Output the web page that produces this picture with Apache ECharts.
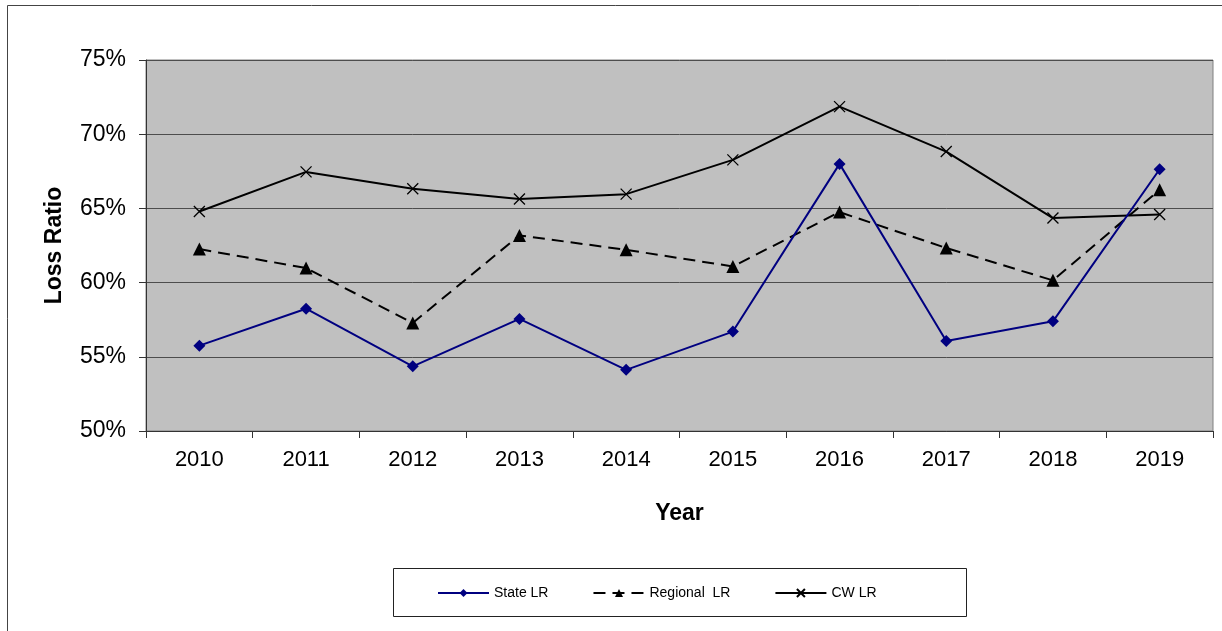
<!DOCTYPE html>
<html>
<head>
<meta charset="utf-8">
<script src="https://cdn.jsdelivr.net/npm/echarts@6/dist/echarts.min.js"></script>
<style>html,body{margin:0;padding:0;background:#fff;}#c{width:1222px;height:631px;}</style>
</head>
<body>
<div id="c"></div>
<script>
const years = ['2010','2011','2012','2013','2014','2015','2016','2017','2018','2019'];
const stateLR = [55.75, 58.24, 54.36, 57.55, 54.12, 56.70, 68.00, 56.07, 57.39, 67.64];
const regionalLR = [62.26, 60.98, 57.28, 63.18, 62.21, 61.09, 64.75, 62.33, 60.15, 66.25];
const cwLR = [64.79, 67.46, 66.32, 65.63, 65.96, 68.27, 71.86, 68.83, 64.35, 64.59];
const yTicks = {min: 50, max: 75, step: 5};

const chart = echarts.init(document.getElementById('c'), null, {renderer: 'canvas'});
const font = 'Liberation Sans, Arial, sans-serif';
const crossPath = 'path://M0,0L10,10M10,0L0,10';
chart.setOption({
  animation: false,
  backgroundColor: '#fff',
  textStyle: {fontFamily: font},
  graphic: [
    {type: 'rect', shape: {x: 7.5, y: 5.5, width: 1300, height: 700}, style: {fill: null, stroke: '#444', lineWidth: 1}, z: -1},
    {type: 'rect', shape: {x: 393.5, y: 568.5, width: 573, height: 48}, style: {fill: '#fff', stroke: '#222', lineWidth: 1}, z: 0}
  ],
  grid: {left: 146, top: 60, right: 9, bottom: 200, show: true, backgroundColor: '#c0c0c0', borderColor: '#808080', borderWidth: 1},
  legend: {
    left: 432, top: 581, itemWidth: 51, itemHeight: 10, itemGap: 44,
    textStyle: {fontFamily: font, fontSize: 14, color: '#000'},
    data: ['State LR', 'Regional  LR', 'CW LR'], z: 5
  },
  xAxis: {
    type: 'category', data: years, boundaryGap: true,
    name: 'Year', nameLocation: 'middle', nameGap: 71,
    nameTextStyle: {fontFamily: font, fontSize: 23, fontWeight: 'bold', color: '#000', verticalAlign: 'top'},
    axisLine: {lineStyle: {color: '#333', width: 1}},
    axisTick: {show: true, alignWithLabel: false, length: 7, lineStyle: {color: '#333'}},
    axisLabel: {fontFamily: font, fontSize: 22, color: '#000', margin: 18},
    splitLine: {show: false}
  },
  yAxis: {
    type: 'value', min: yTicks.min, max: yTicks.max, interval: yTicks.step,
    name: 'Loss Ratio', nameLocation: 'middle', nameGap: 80, nameRotate: 90,
    nameTextStyle: {fontFamily: font, fontSize: 23, fontWeight: 'bold', color: '#000'},
    axisLine: {show: true, lineStyle: {color: '#333', width: 1}},
    axisTick: {show: true, length: 7, lineStyle: {color: '#333'}},
    axisLabel: {fontFamily: font, fontSize: 23, color: '#000', margin: 20, formatter: '{value}%'},
    splitLine: {show: true, lineStyle: {color: '#4d4d4d', width: 1}}
  },
  series: [
    {
      name: 'State LR', type: 'line', data: stateLR,
      symbol: 'diamond', symbolSize: 12,
      lineStyle: {color: '#000080', width: 2},
      itemStyle: {color: '#000080'}, z: 3
    },
    {
      name: 'Regional  LR', type: 'line', data: regionalLR,
      symbol: 'triangle', symbolSize: 13,
      lineStyle: {color: '#000', width: 2, type: [12, 7]},
      itemStyle: {color: '#000'}, z: 2
    },
    {
      name: 'CW LR', type: 'line', data: cwLR,
      symbol: crossPath, symbolSize: 11,
      lineStyle: {color: '#000', width: 2},
      itemStyle: {color: 'rgba(0,0,0,0)', borderColor: '#000', borderWidth: 1.3}, z: 2
    }
  ]
});
</script>
</body>
</html>
